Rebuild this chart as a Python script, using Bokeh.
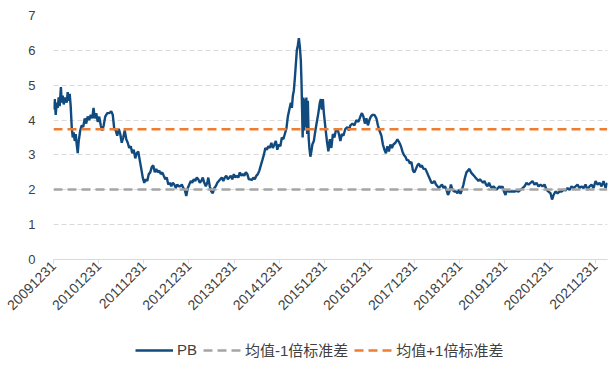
import math
from bokeh.plotting import figure
from bokeh.layouts import column
from bokeh.models import Legend, LegendItem, FixedTicker, Range1d
from bokeh.embed import file_html
from bokeh.resources import INLINE

# ---- data (decimal year, PB) ----
years = [
2010.000,2010.027,2010.049,2010.071,2010.093,2010.115,2010.137,2010.164,2010.182,2010.204,
2010.226,2010.259,2010.293,2010.315,2010.337,2010.359,2010.381,2010.404,2010.426,2010.448,
2010.470,2010.492,2010.514,2010.537,2010.559,2010.592,2010.625,2010.659,2010.692,2010.725,
2010.758,2010.792,2010.825,2010.858,2010.887,2010.914,2010.947,2010.980,2011.013,2011.047,
2011.080,2011.113,2011.146,2011.191,2011.235,2011.279,2011.313,2011.346,2011.379,2011.412,
2011.446,2011.479,2011.512,2011.545,2011.579,2011.612,2011.645,2011.678,2011.712,2011.745,
2011.778,2011.812,2011.845,2011.878,2011.911,2011.945,2011.978,2012.011,2012.044,2012.078,
2012.111,2012.144,2012.177,2012.211,2012.244,2012.277,2012.310,2012.344,2012.377,2012.410,
2012.443,2012.477,2012.510,2012.543,2012.576,2012.610,2012.643,2012.676,2012.710,2012.743,
2012.776,2012.809,2012.843,2012.876,2012.909,2012.942,2012.976,2013.009,2013.042,2013.075,
2013.109,2013.142,2013.175,2013.208,2013.242,2013.275,2013.308,2013.341,2013.375,2013.408,
2013.430,2013.463,2013.497,2013.530,2013.563,2013.596,2013.630,2013.663,2013.696,2013.729,
2013.763,2013.796,2013.829,2013.863,2013.896,2013.929,2013.962,2013.996,2014.029,2014.062,
2014.095,2014.129,2014.162,2014.195,2014.228,2014.262,2014.295,2014.328,2014.361,2014.395,
2014.428,2014.461,2014.494,2014.528,2014.561,2014.594,2014.628,2014.661,2014.694,2014.727,
2014.761,2014.794,2014.827,2014.860,2014.894,2014.927,2014.960,2014.993,2015.027,2015.060,
2015.093,2015.126,2015.160,2015.193,2015.226,2015.259,2015.282,2015.304,2015.326,2015.348,
2015.370,2015.392,2015.415,2015.437,2015.459,2015.481,2015.497,2015.510,2015.521,2015.537,
2015.554,2015.570,2015.588,2015.603,2015.621,2015.636,2015.654,2015.670,2015.692,2015.714,
2015.736,2015.769,2015.803,2015.836,2015.869,2015.902,2015.925,2015.947,2015.969,2015.991,
2016.024,2016.058,2016.091,2016.124,2016.157,2016.191,2016.224,2016.257,2016.290,2016.324,
2016.357,2016.390,2016.424,2016.468,2016.512,2016.545,2016.579,2016.623,2016.667,2016.712,
2016.756,2016.800,2016.834,2016.867,2016.900,2016.933,2016.967,2017.000,2017.033,2017.067,
2017.111,2017.155,2017.188,2017.222,2017.266,2017.299,2017.333,2017.366,2017.399,2017.432,
2017.466,2017.499,2017.532,2017.577,2017.621,2017.665,2017.699,2017.732,2017.765,2017.798,
2017.832,2017.865,2017.898,2017.931,2017.965,2017.998,2018.031,2018.064,2018.098,2018.131,
2018.164,2018.197,2018.242,2018.275,2018.308,2018.342,2018.375,2018.408,2018.441,2018.475,
2018.508,2018.541,2018.574,2018.608,2018.641,2018.674,2018.707,2018.741,2018.774,2018.807,
2018.840,2018.885,2018.918,2018.951,2018.985,2019.018,2019.051,2019.084,2019.118,2019.151,
2019.184,2019.217,2019.251,2019.284,2019.317,2019.350,2019.384,2019.417,2019.450,2019.483,
2019.517,2019.550,2019.583,2019.616,2019.650,2019.683,2019.716,2019.750,2019.783,2019.816,
2019.849,2019.883,2019.916,2019.949,2019.982,2020.016,2020.049,2020.082,2020.126,2020.171,
2020.215,2020.260,2020.304,2020.348,2020.393,2020.437,2020.481,2020.526,2020.570,2020.614,
2020.659,2020.703,2020.747,2020.792,2020.836,2020.880,2020.925,2020.969,2021.013,2021.047,
2021.080,2021.124,2021.169,2021.213,2021.257,2021.302,2021.346,2021.390,2021.435,2021.479,
2021.523,2021.568,2021.612,2021.656,2021.701,2021.745,2021.789,2021.834,2021.878,2021.922,
2021.967,2022.011,2022.055,2022.100,2022.144,2022.189,2022.233,2022.271,
]
pb = [
4.30,4.60,4.15,4.50,4.35,4.65,4.40,4.95,4.50,4.70,
4.45,4.65,4.50,4.80,4.55,4.75,4.40,3.80,3.50,3.65,
3.40,3.60,3.30,3.05,3.40,3.70,3.85,3.80,4.05,3.90,
4.10,4.00,4.15,4.05,4.35,4.05,4.20,3.95,4.10,3.85,
3.70,3.85,4.10,4.20,4.20,4.25,4.15,3.75,3.70,3.55,
3.75,3.60,3.35,3.50,3.70,3.45,3.35,3.20,3.25,3.05,
3.15,2.90,3.05,3.10,2.85,2.60,2.35,2.20,2.30,2.25,
2.45,2.50,2.65,2.70,2.50,2.60,2.50,2.55,2.45,2.50,
2.40,2.30,2.35,2.15,2.20,2.10,2.20,2.15,2.05,2.15,
2.10,2.10,2.15,2.05,2.00,1.82,2.05,2.15,2.25,2.20,
2.30,2.25,2.35,2.30,2.20,2.25,2.35,2.20,2.10,2.20,
2.35,2.10,1.95,1.90,2.05,2.10,2.20,2.25,2.30,2.35,
2.25,2.35,2.40,2.30,2.35,2.40,2.30,2.45,2.35,2.40,
2.35,2.50,2.40,2.45,2.40,2.50,2.45,2.30,2.30,2.28,
2.35,2.30,2.40,2.45,2.55,2.70,2.85,3.00,3.20,3.15,
3.25,3.20,3.35,3.20,3.30,3.40,3.15,3.30,3.25,3.50,
3.45,3.60,3.75,4.10,4.30,4.50,4.35,4.70,4.85,5.20,
5.60,6.00,6.15,6.35,6.10,5.70,5.00,4.20,3.50,4.65,
3.70,4.60,3.80,4.65,3.60,4.55,3.50,3.20,2.95,3.10,
3.30,3.40,3.70,3.95,4.20,4.50,4.60,4.30,4.60,4.20,
3.80,3.40,3.10,3.45,3.20,3.60,3.50,3.70,3.75,3.60,
3.40,3.60,3.55,3.75,3.80,3.70,3.85,3.90,3.85,4.00,
3.95,4.10,4.20,4.10,3.90,4.05,3.85,4.00,4.10,4.15,
4.15,4.05,3.85,3.70,3.55,3.30,3.15,3.05,3.25,3.10,
3.30,3.20,3.30,3.35,3.45,3.35,3.25,3.10,3.00,2.95,
2.85,2.85,2.75,2.80,2.55,2.50,2.60,2.70,2.75,2.65,
2.70,2.60,2.60,2.50,2.40,2.30,2.20,2.20,2.25,2.15,
2.10,2.05,2.10,2.15,2.05,2.10,2.00,1.85,1.95,2.15,
2.00,1.95,1.95,1.90,2.00,1.88,2.00,2.15,2.35,2.50,
2.55,2.60,2.50,2.45,2.40,2.35,2.30,2.25,2.30,2.25,
2.20,2.25,2.15,2.10,2.20,2.10,2.05,2.10,2.05,2.00,
2.05,2.10,2.05,2.10,1.95,1.85,2.00,1.95,1.95,1.95,
1.95,1.97,1.95,2.00,2.05,2.10,2.20,2.15,2.20,2.25,
2.15,2.20,2.10,2.15,2.10,2.15,2.00,1.95,1.90,1.72,
1.85,1.95,1.90,1.95,1.95,2.00,1.98,2.05,2.00,2.10,
2.05,2.10,2.15,2.05,2.10,2.05,2.15,2.00,2.10,2.15,
2.05,2.25,2.15,2.20,2.10,2.25,2.05,2.20,
]
mean_minus_1sd = 2.01
mean_plus_1sd = 3.74
tick_labels = ["20091231", "20101231", "20111231", "20121231", "20131231", "20141231",
               "20151231", "20161231", "20171231", "20181231", "20191231", "20201231",
               "20211231"]
y_ticks = [0, 1, 2, 3, 4, 5, 6, 7]
series_names = ["PB", "均值-1倍标准差", "均值+1倍标准差"]

# ---- styling ----
LINE_BLUE = "#114a7e"
GRAY = "#a5a5a5"
ORANGE = "#ed7d31"
TEXT = "#404040"
FONT = "'Liberation Sans', 'Noto Sans CJK SC', sans-serif"
DASH = "9 5"

# tick positions: a label yyyy1231 sits at the start of the following year
tick_pos = [int(s[:4]) + 1 for s in tick_labels]

p = figure(width=615, height=318, output_backend="svg", toolbar_location=None,
           x_range=Range1d(years[0], years[-1] + 0.005), y_range=Range1d(0, 7),
           min_border_left=53, min_border_right=8, min_border_top=15, min_border_bottom=59)
p.outline_line_color = None
p.background_fill_color = "white"
p.border_fill_color = "white"

p.line(years, pb, line_color=LINE_BLUE, line_width=2.4)
p.line([years[0], years[-1]], [mean_minus_1sd, mean_minus_1sd],
       line_color=GRAY, line_width=2.5, line_dash=DASH)
p.line([years[0], years[-1]], [mean_plus_1sd, mean_plus_1sd],
       line_color=ORANGE, line_width=2.5, line_dash=DASH)

# grid
p.xgrid.grid_line_color = None
p.ygrid.grid_line_color = "#d9d9d9"
p.ygrid.grid_line_dash = "5 3"
p.ygrid.grid_line_width = 1

# y axis
p.yaxis.ticker = FixedTicker(ticks=y_ticks)
p.yaxis.axis_line_color = None
p.yaxis.major_tick_line_color = None
p.yaxis.minor_tick_line_color = None
p.yaxis.major_label_standoff = 12
p.yaxis.major_label_text_font = FONT
p.yaxis.major_label_text_font_size = "13px"
p.yaxis.major_label_text_color = TEXT

# x axis
p.xaxis.ticker = FixedTicker(ticks=tick_pos)
p.xaxis.major_label_overrides = {pos: lab for pos, lab in zip(tick_pos, tick_labels)}
p.xaxis.major_label_orientation = math.pi / 4
p.xaxis.axis_line_color = "#d9d9d9"
p.xaxis.major_tick_line_color = "#d9d9d9"
p.xaxis.major_tick_in = 0
p.xaxis.major_tick_out = 4
p.xaxis.minor_tick_line_color = None
p.xaxis.major_label_standoff = 0
p.xaxis.major_label_text_font = FONT
p.xaxis.major_label_text_font_size = "14px"
p.xaxis.major_label_text_color = TEXT

# ---- legend strip below the chart (series drawn off-range, only the legend shows) ----
lg = figure(width=615, height=48, output_backend="svg", toolbar_location=None,
            x_range=Range1d(0, 1), y_range=Range1d(0, 1),
            x_axis_location=None, y_axis_location=None,
            min_border_left=0, min_border_right=0, min_border_top=0, min_border_bottom=0)
lg.grid.visible = False
lg.outline_line_color = None
l_pb = lg.line(years, pb, line_color=LINE_BLUE, line_width=2.4)
l_lo = lg.line([years[0], years[-1]], [mean_minus_1sd, mean_minus_1sd],
               line_color=GRAY, line_width=2.5, line_dash=DASH)
l_hi = lg.line([years[0], years[-1]], [mean_plus_1sd, mean_plus_1sd],
               line_color=ORANGE, line_width=2.5, line_dash=DASH)

legend = Legend(items=[LegendItem(label=series_names[0], renderers=[l_pb]),
                       LegendItem(label=series_names[1], renderers=[l_lo]),
                       LegendItem(label=series_names[2], renderers=[l_hi])],
                orientation="horizontal", location=(82, 6))
legend.glyph_width = 38
legend.glyph_height = 16
legend.label_standoff = 4
legend.spacing = 6
legend.padding = 0
legend.margin = 0
legend.border_line_color = None
legend.background_fill_alpha = 0
legend.label_text_font = FONT
legend.label_text_font_size = "15px"
legend.label_text_color = TEXT
lg.add_layout(legend, "center")

layout = column(p, lg, spacing=0)
open("out.html", "w").write(file_html(layout, INLINE))
